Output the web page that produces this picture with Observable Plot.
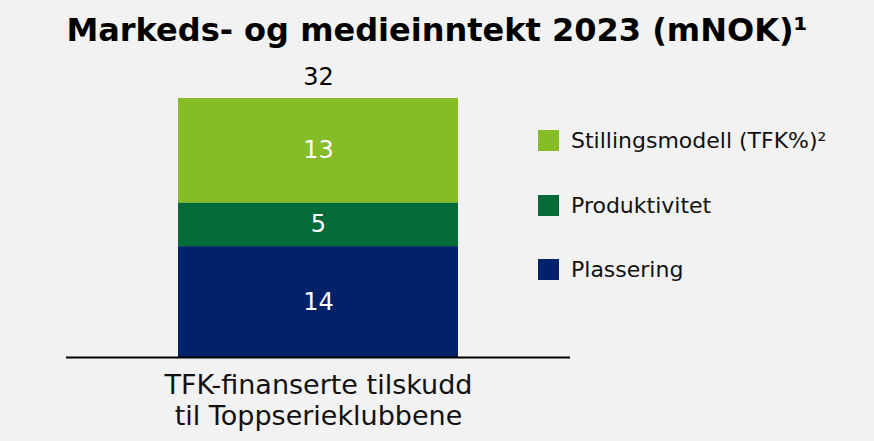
<!DOCTYPE html>
<html>
<head>
<meta charset="utf-8">
<script src="https://cdn.jsdelivr.net/npm/d3@7"></script>
<script src="https://cdn.jsdelivr.net/npm/@observablehq/plot@0.6"></script>
<style>
  html, body { margin: 0; padding: 0; background: #f2f2f2; }
  body { width: 874px; height: 441px; position: relative; overflow: hidden; font-family: "DejaVu Sans", sans-serif; }
  #title { position: absolute; left: 0; top: 10px; width: 874px; text-align: center; font-weight: bold; font-size: 32px; line-height: 40px; color: #000; }
  #chart { position: absolute; left: 0; top: 60px; }
  #legend { position: absolute; left: 538px; top: 128px; }
  .item { position: absolute; left: 0; display: flex; align-items: center; white-space: nowrap; font-size: 22px; color: #111; }
  .sw { width: 21px; height: 21px; margin-right: 12px; flex: none; }
</style>
</head>
<body>
<div id="title">Markeds- og medieinntekt 2023 (mNOK)¹</div>
<div id="chart"></div>
<div id="legend"></div>
<script>
const categories = ["TFK-finanserte tilskudd\ntil Toppserieklubbene"];
const series = ["Plassering", "Produktivitet", "Stillingsmodell (TFK%)²"];
const values = [13.7, 5.4, 12.9];
const colors = ["#012169", "#046a38", "#86bc25"];
const totalLabel = 32;

const data = series.map((s, i) => ({cat: categories[0], series: s, value: values[i]}));

const plot = Plot.plot({
  width: 874,
  height: 381,
  marginLeft: 66,
  marginRight: 304,
  marginTop: 38,
  marginBottom: 84,
  style: {background: "transparent", fontFamily: "'DejaVu Sans', sans-serif"},
  x: {domain: categories, padding: 0.2857, label: null},
  y: {domain: [0, totalLabel], axis: null},
  color: {domain: series, range: colors},
  marks: [
    Plot.barY(data, {x: "cat", y: "value", fill: "series", order: series}),
    Plot.text(data, Plot.stackY({x: "cat", y: "value", z: "series", order: series, text: d => Math.round(d.value), fill: "white", fontSize: 24})),
    Plot.text([{cat: categories[0], total: totalLabel}], {x: "cat", y: "total", text: d => d.total, dy: -21, fontSize: 24, fill: "#000"}),
    Plot.ruleY([0], {stroke: "#000", strokeWidth: 2}),
    Plot.axisX({tickSize: 0, tickPadding: 15, fontSize: 27, lineHeight: 1.13, fill: "#111", label: null})
  ]
});
document.getElementById("chart").appendChild(plot);

const legend = document.getElementById("legend");
const tops = [0, 65, 128.5];
[2, 1, 0].forEach((i, k) => {
  const it = document.createElement("div");
  it.className = "item";
  it.style.top = tops[k] + "px";
  it.innerHTML = `<span class="sw" style="background:${colors[i]}"></span><span>${series[i]}</span>`;
  legend.appendChild(it);
});
</script>
</body>
</html>
